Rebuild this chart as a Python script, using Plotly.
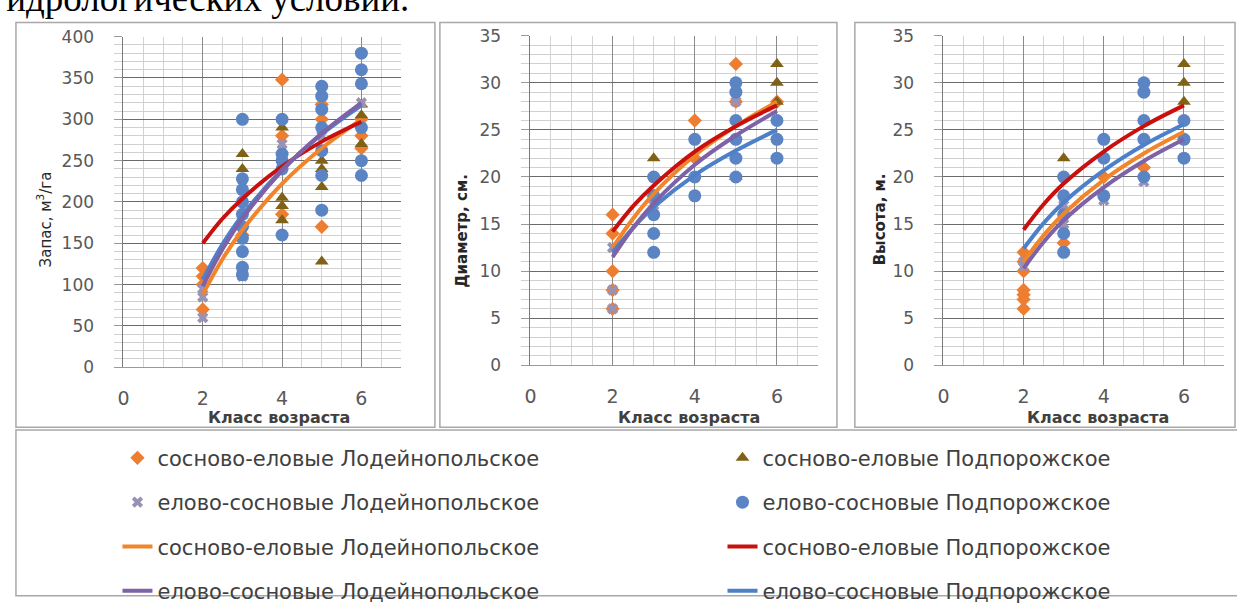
import plotly.graph_objects as go

W, H = 1237, 612

# ---------------- data ----------------
age_trend = [2, 2.5, 3, 4, 5, 6]

# Panel 1: Запас, м3/га
p1_se_lod_x = [2, 2, 2, 2, 3, 3, 4, 4, 4, 5, 5, 5, 6, 6, 6]
p1_se_lod_y = [120, 110, 100, 70, 170, 160, 348, 280, 185, 318, 300, 170, 300, 280, 265]
p1_se_pod_x = [3, 3, 4, 4, 4, 4, 5, 5, 5, 5, 6, 6, 6]
p1_se_pod_y = [258, 240, 290, 205, 195, 178, 250, 240, 218, 128, 318, 305, 270]
p1_es_lod_x = [2, 2, 2, 3, 3, 4, 5, 6]
p1_es_lod_y = [95, 85, 60, 200, 110, 270, 280, 320]
p1_es_pod_x = [3, 3, 3, 3, 3, 3, 3, 3, 3, 3, 4, 4, 4, 4, 4, 5, 5, 5, 5, 5, 5, 5, 6, 6, 6, 6, 6, 6]
p1_es_pod_y = [300, 228, 215, 200, 185, 170, 156, 140, 121, 112, 300, 258, 250, 240, 160,
               340, 328, 312, 290, 262, 232, 190, 380, 360, 343, 290, 250, 232]
p1_tr_se_lod = [88, 131, 166, 222, 265, 300]
p1_tr_se_pod = [150, 180, 204, 243, 273, 297]
p1_tr_es_lod = [98, 143, 180, 238, 283, 320]
p1_tr_es_pod = [106, 149, 184, 239, 282, 317]

# Panel 2: Диаметр, см
p2_se_lod_x = [2, 2, 2, 2, 2, 3, 4, 4, 5, 5, 6]
p2_se_lod_y = [16, 14, 10, 8, 6, 18, 26, 22, 32, 28, 28]
p2_se_pod_x = [3, 5, 6, 6, 6]
p2_se_pod_y = [22, 20, 32, 30, 28]
p2_es_lod_x = [2, 2, 2, 3, 4, 5]
p2_es_lod_y = [12.5, 8, 6, 17, 18, 28]
p2_es_pod_x = [3, 3, 3, 3, 3, 4, 4, 4, 5, 5, 5, 5, 5, 5, 6, 6, 6]
p2_es_pod_y = [20, 18, 16, 14, 12, 24, 20, 18, 30, 29, 26, 24, 22, 20, 26, 24, 22]
p2_tr_se_lod = [12.5, 15.6, 18.2, 22.3, 25.4, 28.0]
p2_tr_se_pod = [14.2, 16.9, 19.1, 22.7, 25.4, 27.6]
p2_tr_es_lod = [11.5, 14.6, 17.2, 21.3, 24.4, 27.0]
p2_tr_es_pod = [12.0, 14.6, 16.8, 20.2, 22.8, 25.0]

# Panel 3: Высота, м
p3_se_lod_x = [2, 2, 2, 2, 2, 2, 2, 3, 4, 5]
p3_se_lod_y = [12, 11, 10, 8, 7.5, 7, 6, 13, 20, 21]
p3_se_pod_x = [3, 6, 6, 6]
p3_se_pod_y = [22, 32, 30, 28]
p3_es_lod_x = [2, 2, 3, 3, 4, 4, 5, 6]
p3_es_lod_y = [11, 10.5, 15, 17, 18, 17.5, 19.5, 24]
p3_es_pod_x = [3, 3, 3, 3, 3, 4, 4, 4, 5, 5, 5, 5, 5, 6, 6, 6]
p3_es_pod_y = [20, 18, 16, 14, 12, 24, 22, 18, 30, 29, 26, 24, 20, 26, 24, 22]
p3_tr_se_lod = [11.0, 13.8, 16.1, 19.7, 22.5, 24.8]
p3_tr_se_pod = [14.4, 17.1, 19.3, 22.7, 25.4, 27.6]
p3_tr_es_lod = [10.3, 13.1, 15.4, 18.9, 21.7, 24.0]
p3_tr_es_pod = [12.4, 15.1, 17.3, 20.7, 23.4, 25.6]

series_names = ["сосново-еловые Лодейнопольское", "сосново-еловые Подпорожское",
                "елово-сосновые Лодейнопольское", "елово-сосновые Подпорожское"]
y_titles = ["Запас, м<sup>3</sup>/га", "Диаметр, см.", "Высота, м."]
x_title = "Класс возраста"
top_text = "гидрологических условий."

panels = [
    dict(pts=[(p1_se_lod_x, p1_se_lod_y), (p1_se_pod_x, p1_se_pod_y),
              (p1_es_lod_x, p1_es_lod_y), (p1_es_pod_x, p1_es_pod_y)],
         tr=[p1_tr_se_lod, p1_tr_se_pod, p1_tr_es_lod, p1_tr_es_pod]),
    dict(pts=[(p2_se_lod_x, p2_se_lod_y), (p2_se_pod_x, p2_se_pod_y),
              (p2_es_lod_x, p2_es_lod_y), (p2_es_pod_x, p2_es_pod_y)],
         tr=[p2_tr_se_lod, p2_tr_se_pod, p2_tr_es_lod, p2_tr_es_pod]),
    dict(pts=[(p3_se_lod_x, p3_se_lod_y), (p3_se_pod_x, p3_se_pod_y),
              (p3_es_lod_x, p3_es_lod_y), (p3_es_pod_x, p3_es_pod_y)],
         tr=[p3_tr_se_lod, p3_tr_se_pod, p3_tr_es_lod, p3_tr_es_pod]),
]

# ---------------- styles ----------------
marker_styles = [
    dict(symbol="diamond", color="#ED7D31", size=11),
    dict(symbol="triangle-up", color="#806217", size=12),
    dict(symbol="x", color="#9A92B4", size=10),
    dict(symbol="circle", color="#5B84C4", size=13),
]
line_colors = ["#F0852A", "#C8100E", "#7E62A8", "#4D80C8"]
legend_of = ["legend", "legend2", "legend", "legend2"]
line_draw_order = [0, 1, 3, 2]

fig = go.Figure()
for i, p in enumerate(panels):
    ax = "" if i == 0 else str(i + 1)
    for k in range(4):
        xs, ys = p["pts"][k]
        st = marker_styles[k]
        fig.add_trace(go.Scatter(
            x=xs, y=ys, mode="markers", name=series_names[k],
            marker=dict(symbol=st["symbol"], color=st["color"], size=st["size"],
                        line=dict(width=0)),
            xaxis="x" + ax, yaxis="y" + ax,
            legend=legend_of[k], legendgroup="m%d" % k, showlegend=(i == 0)))
    for k in line_draw_order:
        fig.add_trace(go.Scatter(
            x=age_trend, y=p["tr"][k], mode="lines", name=series_names[k],
            line=dict(color=line_colors[k], width=4, shape="spline", smoothing=1.0),
            xaxis="x" + ax, yaxis="y" + ax,
            legend=legend_of[k], legendgroup="l%d" % k, showlegend=(i == 0)))

# panel geometry (pixels)
plot_px = [  # x0, x1, ytop, ybottom
    (118, 397, 28, 375),
    (527, 816, 27, 373),
    (942, 1224, 27, 373),
]
y_ranges = [(0, 400, 50, 10), (0, 35, 5, 1), (0, 35, 5, 1)]
tick_font = dict(family="DejaVu Sans", size=17, color="#595959")
xtick_font = dict(family="DejaVu Sans", size=19, color="#595959")

layout = dict(width=W, height=H, margin=dict(l=0, r=0, t=0, b=0),
              paper_bgcolor="white", plot_bgcolor="white", autosize=False,
              hovermode=False)
for i, (x0, x1, yt, yb) in enumerate(plot_px):
    ax = "" if i == 0 else str(i + 1)
    lo, hi, dt, mdt = y_ranges[i]
    layout["xaxis" + ax] = dict(
        domain=[x0 / W, x1 / W], range=[0, 7], tick0=0, dtick=2,
        anchor="y" + ax, showgrid=True, gridcolor="#8a8a8a", gridwidth=1,
        minor=dict(dtick=0.5, showgrid=True, gridcolor="#d2d2d2", gridwidth=1),
        zeroline=False, showline=True, linecolor="#9a9a9a", linewidth=1,
        ticks="", tickfont=xtick_font, ticklabelstandoff=14, fixedrange=True)
    layout["yaxis" + ax] = dict(
        domain=[1 - yb / H, 1 - yt / H], range=[lo, hi], tick0=0, dtick=dt,
        anchor="x" + ax, showgrid=True, gridcolor="#6a6a6a", gridwidth=1,
        minor=dict(dtick=mdt, showgrid=True, gridcolor="#d0d0d0", gridwidth=1,
                   ticks="outside", ticklen=8, tickcolor="#d0d0d0"),
        zeroline=False, showline=True, linecolor="#7a7a7a", linewidth=1,
        ticks="outside", ticklen=8, tickcolor="#9a9a9a",
        tickfont=tick_font, ticklabelstandoff=17, fixedrange=True)

# legends (two columns)
leg_font = dict(family="DejaVu Sans", size=21, color="#404040")
layout["legend"] = dict(x=112 / W, xanchor="left", y=1 - 449 / H, yanchor="top",
                        orientation="v", font=leg_font, bgcolor="rgba(0,0,0,0)",
                        tracegroupgap=14, itemwidth=30, traceorder="grouped")
layout["legend2"] = dict(x=720 / W, xanchor="left", y=1 - 449 / H, yanchor="top",
                         orientation="v", font=leg_font, bgcolor="rgba(0,0,0,0)",
                         tracegroupgap=14, itemwidth=30, traceorder="grouped")

# boxes
boxes = [(10, 431, 13, 438), (436, 835, 13, 438), (853, 1235, 13, 438), (10, 1240, 441, 615)]
shapes = []
for (bx0, bx1, by0, by1) in boxes:
    shapes.append(dict(type="rect", xref="paper", yref="paper",
                       x0=bx0 / W, x1=bx1 / W, y0=1 - by1 / H, y1=1 - by0 / H,
                       line=dict(color="#a8a8a8", width=1.5), fillcolor="rgba(0,0,0,0)",
                       layer="below"))
layout["shapes"] = shapes

annotations = []
# x titles
xt_centers = [274, 686, 1097]
for cx in xt_centers:
    annotations.append(dict(text="<b>" + x_title + "</b>", x=cx / W, y=1 - 428 / H,
                            xref="paper", yref="paper", xanchor="center", yanchor="middle",
                            showarrow=False,
                            font=dict(family="DejaVu Sans", size=16, color="#404040")))
# y titles
yt_pos = [(38, 220, False), (458, 232, True), (878, 220, True)]
for (cx, cy, bold), t in zip(yt_pos, y_titles):
    annotations.append(dict(text=("<b>%s</b>" % t) if bold else t, x=cx / W, y=1 - cy / H,
                            xref="paper", yref="paper", xanchor="center", yanchor="middle",
                            showarrow=False, textangle=-90,
                            font=dict(family="DejaVu Sans", size=15, color="#262626")))
# clipped document text at the top
annotations.append(dict(text=top_text, x=-17 / W, y=1 - 12 / H, xref="paper", yref="paper",
                        xanchor="left", yanchor="bottom", showarrow=False,
                        font=dict(family="Liberation Serif", size=37, color="#000000")))
layout["annotations"] = annotations

fig.update_layout(**layout)
fig.write_html("out.html")
